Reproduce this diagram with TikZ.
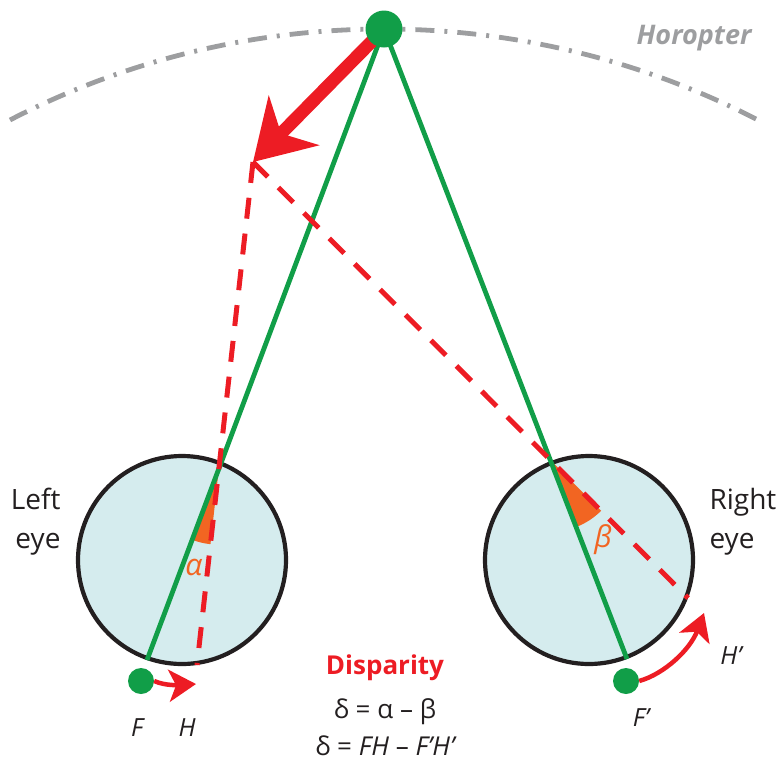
\documentclass[tikz,border=0pt]{standalone}
\usepackage{fontspec}
\setmainfont{Open Sans}
\usetikzlibrary{arrows.meta,calc}
\definecolor{myred}{HTML}{ED1C24}
\definecolor{mygreen}{HTML}{119E48}
\definecolor{myorange}{HTML}{F26522}
\definecolor{eyefill}{HTML}{D5ECEE}
\definecolor{horo}{HTML}{9D9EA0}
\definecolor{txt}{HTML}{231F20}
\tikzset{
  eyeball/.style={circle, draw=txt, line width=4.2pt, fill=eyefill, minimum size=208pt, inner sep=0pt},
  gdot/.style={circle, fill=mygreen, inner sep=0pt},
  ray/.style={mygreen, line width=4.8pt},
  dashray/.style={myred, line width=5pt, dash pattern=on 21pt off 15pt},
  wedge/.style={fill=myorange},
  lbl/.style={text=txt, font=\fontsize{28}{39}\selectfont},
  eqn/.style={text=txt, font=\fontsize{25}{30}\selectfont},
  smallarrow/.style={myred, line width=4.5pt, -{Stealth[length=27pt,width=32pt,inset=7pt]}}
}
\begin{document}
\begin{tikzpicture}[x=1pt,y=1pt]
\useasboundingbox (0,0) rectangle (781,-766);
% key points
\coordinate (P) at (384,-29);
\coordinate (T) at (253,-162);
\coordinate (LB) at (147,-660);
\coordinate (LH) at (197,-665);
\coordinate (RB) at (627,-659);
\coordinate (RH) at (688,-598);
% eyes
\node[eyeball] (le) at (182,-560) {};
\node[eyeball] (re) at (589,-560) {};
% angle wedges
\coordinate (VA) at (intersection of P--LB and T--LH);
\coordinate (VB) at (intersection of P--RB and T--RH);
\fill[wedge] (VA) -- ++(-110.4:76pt) arc[start angle=-110.4, end angle=-96.35, radius=76pt] -- cycle;
\fill[wedge] (VB) -- ++(-68.85:72pt) arc[start angle=-68.85, end angle=-45, radius=72pt] -- cycle;
% green lines of sight
\draw[ray] (P) -- (LB);
\draw[ray] (P) -- (RB);
% red dashed lines
\draw[dashray] (T) -- (LH);
\draw[dashray] (T) -- (RH);
% horopter
\draw[horo, line width=4.8pt, dash pattern=on 19pt off 10pt on 3pt off 10pt]
  (10,-120) arc[start angle=117.35, end angle=62.65, radius=814pt];
% big arrow
\draw[myred, line width=13pt, -{Stealth[length=58pt,width=70pt,inset=18pt]}] (P) -- (T);
% dots
\node[gdot, minimum size=37pt] (fix) at (P) {};
\node[gdot, minimum size=26pt] (fdot) at (141,-681) {};
\node[gdot, minimum size=26pt] (fpdot) at (626,-681) {};
% small arrows
\coordinate (Hpt) at (196,-684);
\coordinate (Hppt) at (704,-613);
\draw[smallarrow] (fdot.east) .. controls (165,-686) and (180,-685) .. (Hpt);
\draw[smallarrow] (fpdot.east) .. controls (664,-674) and (690,-650) .. (Hppt);
% labels
\node[lbl, align=right, anchor=north east] (lefteye) at (64,-485) {Left\\eye};
\node[lbl, align=left, anchor=north west] (righteye) at (706,-485) {Right\\eye};
\node[font=\bfseries\itshape\fontsize{27}{30}\selectfont, text=horo] (horolbl) at (694,-38) {Horopter};
\node[font=\itshape\fontsize{30}{32}\selectfont, text=myorange] (alpha) at (194,-567) {α};
\node[font=\itshape\fontsize{30}{32}\selectfont, text=myorange] (beta) at (603,-540) {β};
\node[font=\bfseries\fontsize{26}{30}\selectfont, text=myred] (disp) at (385,-668) {Disparity};
\node[eqn, font=\fontsize{26}{30}\selectfont] (eq1) at (385,-712) {δ = α – β};
\node[eqn, font=\fontsize{26}{30}\selectfont] (eq2) at (386,-746) {δ = \textit{FH} – \textit{F’H’}};
\node[eqn, font=\itshape\fontsize{25}{30}\selectfont] (Flbl) at (137,-728) {F};
\node[eqn, font=\itshape\fontsize{25}{30}\selectfont] (Hlbl) at (187,-728) {H};
\node[eqn, font=\itshape\fontsize{25}{30}\selectfont] (Fplbl) at (641,-718) {F’};
\node[eqn, font=\itshape\fontsize{25}{30}\selectfont] (Hplbl) at (731,-656) {H’};
\end{tikzpicture}
\end{document}
